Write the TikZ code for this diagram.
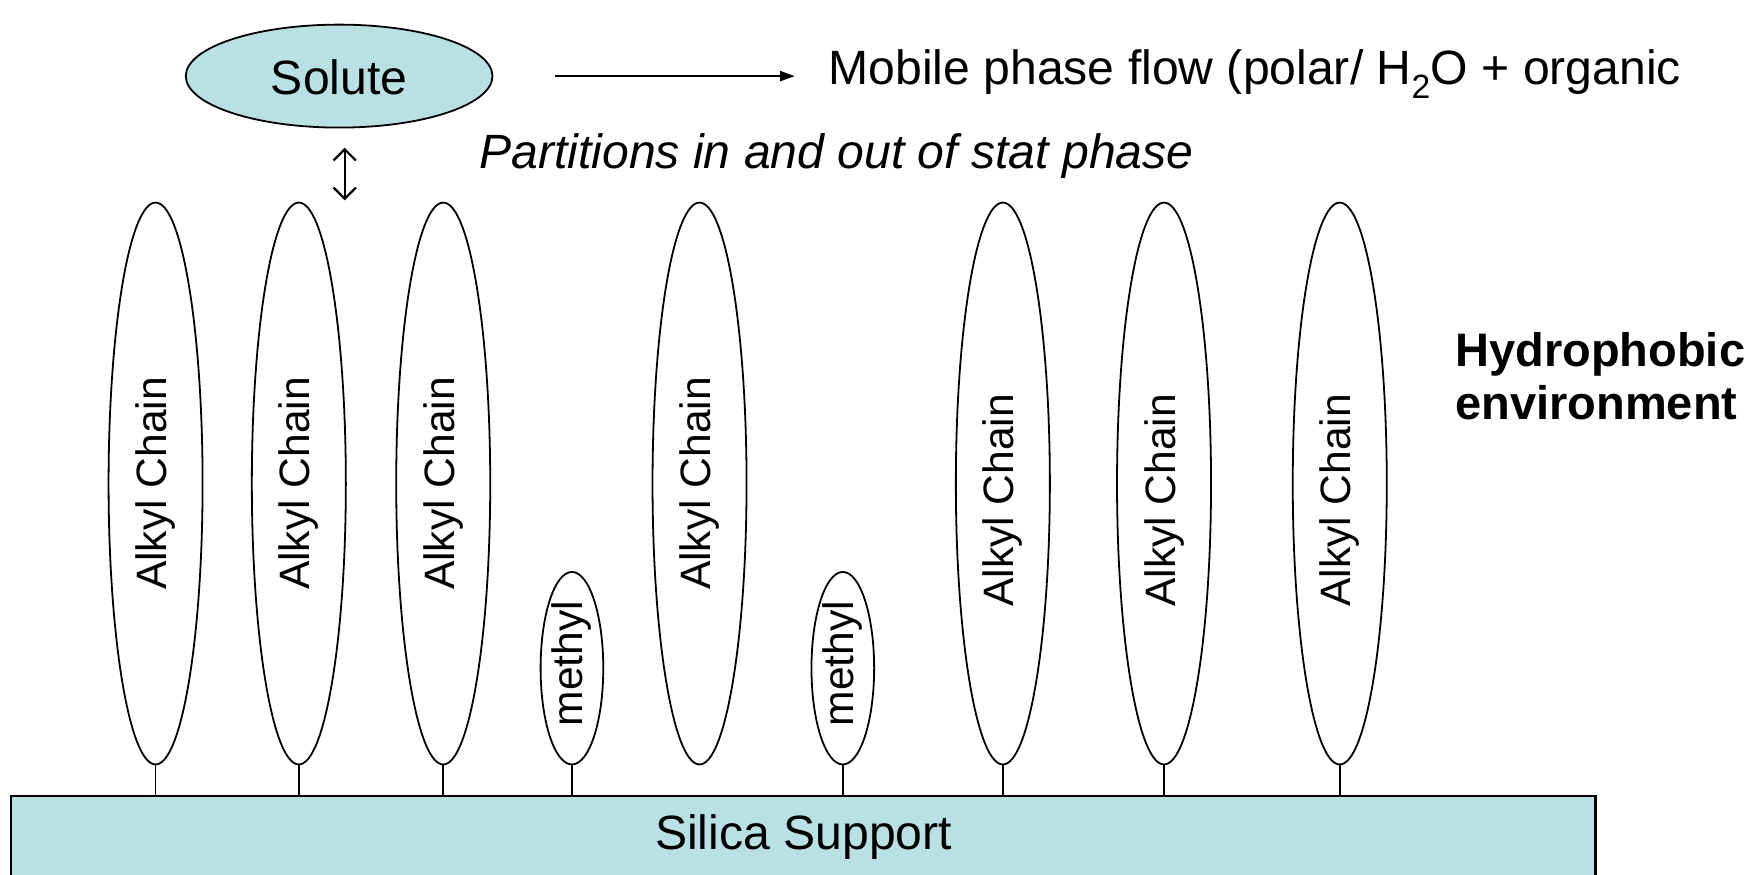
\documentclass[tikz,border=0pt]{standalone}
\usepackage{fontspec}
\setmainfont{Liberation Sans}
\usetikzlibrary{shapes.geometric,arrows.meta}
\definecolor{silica}{RGB}{185,224,227}
\tikzset{
  chain/.style={draw, ellipse, line width=1.6pt, inner sep=0pt,
    minimum width=84pt, minimum height=502pt},
  methylbox/.style={draw, ellipse, line width=1.6pt, inner sep=0pt,
    minimum width=56pt, minimum height=172pt},
  chainlabel/.style={rotate=90, font=\fontsize{38}{44}\selectfont, inner sep=0pt},
  stem/.style={line width=1.6pt},
  bigtext/.style={font=\fontsize{43}{50}\selectfont, inner sep=0pt},
}
\begin{document}
\begin{tikzpicture}[x=1pt,y=-1pt]
\useasboundingbox (0,0) rectangle (1568,781);

% silica support (runs off the bottom edge)
\node[fill=silica, minimum width=1415pt, minimum height=80pt, inner sep=0pt,
      anchor=north west] (support) at (10,711) {};
\draw[line width=2pt] (support.south west) -- (support.north west)
      -- (support.north east) -- (support.south east);
\node[bigtext] (supporttext) at (718,748) {Silica Support};

% solute and mobile phase
\node[draw, ellipse, fill=silica, line width=1.6pt, inner sep=0pt,
      minimum width=274pt, minimum height=92pt] (solute) at (303,68) {};
\node[bigtext] (solutetext) at (303,69) {Solute};
\coordinate (flowstart) at (496,68);
\coordinate (flowend) at (710,68);
\draw[line width=1.6pt, -{Triangle[length=13pt,width=9pt]}] (flowstart) -- (flowend);
\node[bigtext, anchor=west] (mobile) at (740,66)
  {Mobile phase flow (polar/ H\textsubscript{2}O + organic};
\node[bigtext, anchor=west, font=\fontsize{43}{50}\selectfont\itshape] (partition) at (428,139)
  {Partitions in and out of stat phase};
\coordinate (pup) at (308,132);
\coordinate (pdown) at (308,179);
\draw[line width=2pt, {Straight Barb[length=10pt,width=20pt]}-{Straight Barb[length=10pt,width=20pt]}] (pup) -- (pdown);

% bonded phase: alkyl chains and methyl end-caps
\node[chain] (a1) at (139,432) {};
\node[chain] (a2) at (267,432) {};
\node[chain] (a3) at (396,432) {};
\node[methylbox] (m1) at (511,597) {};
\node[chain] (a4) at (625,432) {};
\node[methylbox] (m2) at (753,597) {};
\node[chain] (a5) at (896,432) {};
\node[chain] (a6) at (1040,432) {};
\node[chain] (a7) at (1197,432) {};

\node[chainlabel] (t1) at (139,432) {Alkyl Chain};
\node[chainlabel] (t2) at (267,432) {Alkyl Chain};
\node[chainlabel] (t3) at (396,432) {Alkyl Chain};
\node[chainlabel] (t4) at (625,432) {Alkyl Chain};
\node[chainlabel] (t5) at (896,447) {Alkyl Chain};
\node[chainlabel] (t6) at (1040,447) {Alkyl Chain};
\node[chainlabel] (t7) at (1197,447) {Alkyl Chain};
\node[chainlabel] (tm1) at (511,593) {methyl};
\node[chainlabel] (tm2) at (753,593) {methyl};

% anchors to the support surface
\foreach \n in {a1,a2,a3,m1,m2,a5,a6,a7}
  \draw[stem] (\n.south) -- (\n.south |- support.north);

% side label
\node[anchor=west, align=left, inner sep=0pt,
      font=\fontsize{42}{48}\selectfont\bfseries] (hydro) at (1300,336)
  {Hydrophobic\\environment};
\end{tikzpicture}
\end{document}
